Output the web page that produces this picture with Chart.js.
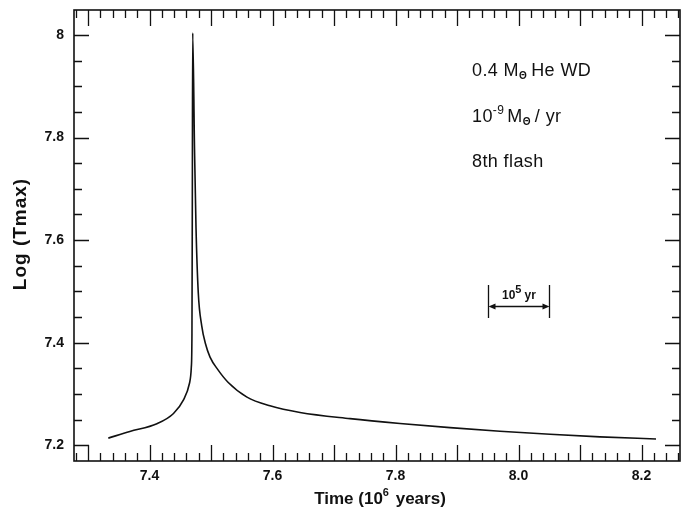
<!DOCTYPE html>
<html>
<head>
<meta charset="utf-8">
<script src="https://cdn.jsdelivr.net/npm/chart.js@4.4.0/dist/chart.umd.min.js"></script>
<style>
  html, body { margin: 0; padding: 0; background: #fff; }
  #wrap { width: 681px; height: 516px; position: relative; }
</style>
</head>
<body>
<div id="wrap"><canvas id="flashChart"></canvas></div>
<script>
// time in units of 10^6 yr
const timeMyr = [7.333, 7.368, 7.412, 7.439, 7.455, 7.465, 7.468, 7.469, 7.4696, 7.4702,
  7.4732, 7.4756, 7.4793, 7.4849, 7.491, 7.4984, 7.5114, 7.5276, 7.5585, 7.5959,
  7.6447, 7.726, 7.8073, 7.8886, 7.9699, 8.0512, 8.1325, 8.2236];
const logTmax = [7.214, 7.227, 7.242, 7.262, 7.288, 7.321, 7.353, 7.418, 7.678, 8.004,
  7.776, 7.624, 7.497, 7.433, 7.398, 7.372, 7.347, 7.323, 7.294, 7.277,
  7.264, 7.252, 7.2425, 7.2345, 7.2275, 7.2215, 7.2165, 7.2123];

const xTickValues = [7.4, 7.6, 7.8, 8.0, 8.2];
const xTickLabels = ['7.4', '7.6', '7.8', '8.0', '8.2'];
const yTickValues = [7.2, 7.4, 7.6, 7.8, 8.0];
const yTickLabels = ['7.2', '7.4', '7.6', '7.8', '8'];
const scaleBar = [7.95, 8.05];   // 10^5 yr

const INK = '#111';
const FAM = '"Liberation Sans", Arial, sans-serif';

// draw a row of text pieces, each {t, size, dy, bold, gap}
function drawRuns(ctx, x, y, runs) {
  runs.forEach(r => {
    ctx.font = (r.bold ? 'bold ' : '') + r.size + 'px ' + FAM;
    ctx.fillText(r.t, x, y + (r.dy || 0));
    x += ctx.measureText(r.t).width + (r.gap || 0);
  });
  return x;
}

// frame with inward ticks on all four sides
const frameTicks = {
  id: 'frameTicks',
  afterDraw(chart) {
    const { ctx, chartArea: a, scales: { x, y } } = chart;
    ctx.save();
    ctx.strokeStyle = INK;
    ctx.lineWidth = 1.6;
    ctx.strokeRect(a.left, a.top, a.right - a.left, a.bottom - a.top);
    ctx.lineWidth = 1.3;
    ctx.beginPath();
    for (let i = Math.ceil(x.min / 0.02); i * 0.02 <= x.max; i++) {
      const px = Math.round(x.getPixelForValue(i * 0.02)) + 0.5;
      const len = i % 5 === 0 ? 16 : 8;
      ctx.moveTo(px, a.bottom); ctx.lineTo(px, a.bottom - len);
      ctx.moveTo(px, a.top); ctx.lineTo(px, a.top + len);
    }
    for (let i = Math.ceil(y.min / 0.05); i * 0.05 <= y.max; i++) {
      const py = Math.round(y.getPixelForValue(i * 0.05)) + 0.5;
      const len = i % 4 === 0 ? 15 : 8;
      ctx.moveTo(a.left, py); ctx.lineTo(a.left + len, py);
      ctx.moveTo(a.right, py); ctx.lineTo(a.right - len, py);
    }
    ctx.stroke();
    ctx.restore();
  }
};

// titles, labels, scale bar
const notes = {
  id: 'notes',
  afterDraw(chart) {
    const { ctx, scales: { x } } = chart;
    ctx.save();
    ctx.fillStyle = INK;
    ctx.textBaseline = 'alphabetic';
    ctx.textAlign = 'left';

    // upper right text block
    ctx.letterSpacing = '0.4px';
    drawRuns(ctx, 472, 76, [
      { t: '0.4 M', size: 18 },
      { t: 'Θ', size: 10, dy: 3, bold: true, gap: 4 },
      { t: 'He WD', size: 18 }
    ]);
    drawRuns(ctx, 472, 122, [
      { t: '10', size: 18 },
      { t: '-9', size: 12, dy: -8, gap: 3 },
      { t: 'M', size: 18 },
      { t: 'Θ', size: 10, dy: 3, bold: true, gap: 4 },
      { t: '/ yr', size: 18 }
    ]);
    drawRuns(ctx, 472, 167, [{ t: '8th flash', size: 18 }]);
    ctx.letterSpacing = '0px';

    // scale bar for 10^5 yr
    const x0 = Math.round(x.getPixelForValue(scaleBar[0])) + 0.5;
    const x1 = Math.round(x.getPixelForValue(scaleBar[1])) + 0.5;
    const yTop = 285, yBot = 318, yArr = 306.5;
    ctx.strokeStyle = INK;
    ctx.lineWidth = 1.3;
    ctx.beginPath();
    ctx.moveTo(x0, yTop); ctx.lineTo(x0, yBot);
    ctx.moveTo(x1, yTop); ctx.lineTo(x1, yBot);
    ctx.moveTo(x0 + 5, yArr); ctx.lineTo(x1 - 5, yArr);
    ctx.stroke();
    ctx.beginPath();
    ctx.moveTo(x0, yArr); ctx.lineTo(x0 + 7, yArr - 3); ctx.lineTo(x0 + 7, yArr + 3); ctx.closePath();
    ctx.moveTo(x1, yArr); ctx.lineTo(x1 - 7, yArr - 3); ctx.lineTo(x1 - 7, yArr + 3); ctx.closePath();
    ctx.fill();
    drawRuns(ctx, 502, 299, [
      { t: '10', size: 12, bold: true },
      { t: '5', size: 11, dy: -6, bold: true, gap: 3 },
      { t: 'yr', size: 12, bold: true }
    ]);

    // x title with superscript
    ctx.font = 'bold 17px ' + FAM;
    const w1 = ctx.measureText('Time (10').width;
    ctx.font = 'bold 11px ' + FAM;
    const w2 = ctx.measureText('6').width + 2;
    ctx.font = 'bold 17px ' + FAM;
    const w3 = ctx.measureText(' years)').width;
    const start = 380 - (w1 + w2 + w3) / 2;
    drawRuns(ctx, start, 504, [
      { t: 'Time (10', size: 17, bold: true },
      { t: '6', size: 11, dy: -8, bold: true, gap: 2 },
      { t: ' years)', size: 17, bold: true }
    ]);

    // y title, rotated
    ctx.translate(26, 234);
    ctx.rotate(-Math.PI / 2);
    ctx.textAlign = 'center';
    ctx.letterSpacing = '1px';
    ctx.font = 'bold 19px ' + FAM;
    ctx.fillText('Log (Tmax)', 0, 0);
    ctx.restore();
  }
};

new Chart(document.getElementById('flashChart'), {
  type: 'line',
  data: {
    datasets: [{
      data: timeMyr.map((t, i) => ({ x: t, y: logTmax[i] })),
      borderColor: INK,
      borderWidth: 1.6,
      pointRadius: 0,
      fill: false,
      cubicInterpolationMode: 'monotone'
    }]
  },
  options: {
    responsive: true,
    maintainAspectRatio: false,
    animation: false,
    layout: { padding: { top: 10, right: 1, bottom: 0, left: 0 } },
    plugins: { legend: { display: false }, tooltip: { enabled: false } },
    scales: {
      x: {
        type: 'linear',
        min: 7.2772,
        max: 8.2626,
        grid: { display: false, drawTicks: false },
        border: { display: false },
        afterBuildTicks: s => { s.ticks = xTickValues.map(v => ({ value: v })); },
        afterFit: s => { s.height = 55; s.paddingLeft = 0; s.paddingRight = 0; },
        ticks: {
          padding: 7,
          color: INK,
          font: { family: FAM, size: 14, weight: 'bold' },
          callback: v => xTickLabels[xTickValues.findIndex(t => Math.abs(t - v) < 1e-6)]
        }
      },
      y: {
        type: 'linear',
        min: 7.1694,
        max: 8.0487,
        grid: { display: false, drawTicks: false },
        border: { display: false },
        afterBuildTicks: s => { s.ticks = yTickValues.map(v => ({ value: v })); },
        afterFit: s => { s.width = 74; s.paddingTop = 0; s.paddingBottom = 0; },
        ticks: {
          padding: 10,
          color: INK,
          font: { family: FAM, size: 14, weight: 'bold' },
          callback: v => yTickLabels[yTickValues.findIndex(t => Math.abs(t - v) < 1e-6)]
        }
      }
    }
  },
  plugins: [frameTicks, notes]
});
</script>
</body>
</html>
